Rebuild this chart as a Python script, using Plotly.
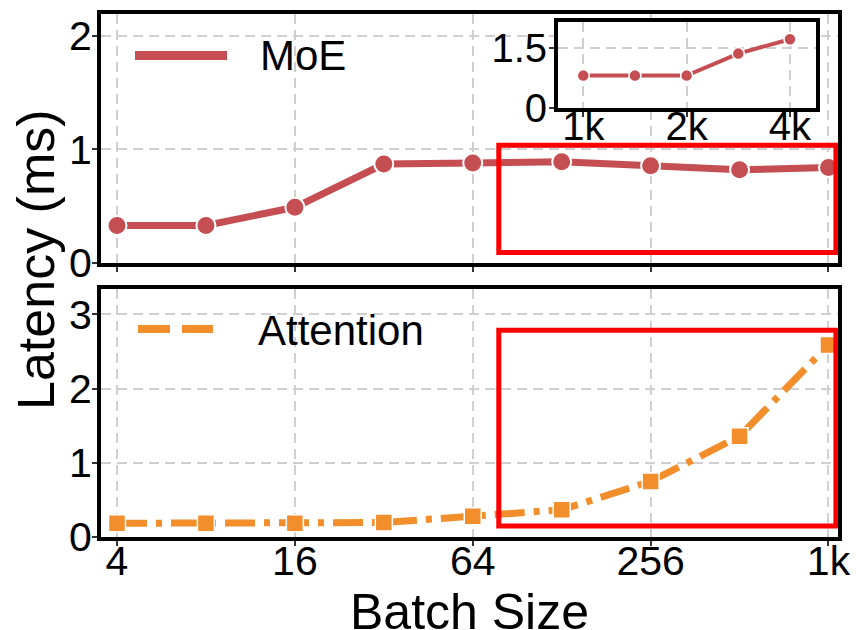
import plotly.graph_objects as go

# ---------------- data ----------------
batch_sizes = [4, 8, 16, 32, 64, 128, 256, 512, 1024]
moe_latency = [0.33, 0.33, 0.49, 0.87, 0.88, 0.89, 0.855, 0.82, 0.84]
attention_latency = [0.185, 0.185, 0.185, 0.195, 0.28, 0.367, 0.749, 1.357, 2.587]

inset_batch_sizes = [1024, 1448, 2048, 2896, 4096]
inset_moe_latency = [0.81, 0.81, 0.81, 1.36, 1.72]

main_tickvals = [4, 16, 64, 256, 1024]
main_ticktext = ["4", "16", "64", "256", "1k"]
inset_tickvals = [1024, 2048, 4096]
inset_ticktext = ["1k", "2k", "4k"]

# ---------------- style ----------------
W, H = 856, 630
ML, MR, MT, MB = 101, 18, 14, 93
PW, PH = W - ML - MR, H - MT - MB

def px(xpix):
    return (xpix - ML) / PW

def py(ypix):
    return (H - MB - ypix) / PH

FONT = "Liberation Sans, Arial, sans-serif"
RED = "#C44E52"
ORANGE = "#F28E2B"
GRID = "#d0d0d0"
GRIDDASH = "10px,6px"

fig = go.Figure()

fig.add_trace(go.Scatter(
    x=batch_sizes, y=moe_latency, mode="lines+markers", name="MoE",
    line=dict(color=RED, width=7),
    marker=dict(symbol="circle", size=19, color=RED, line=dict(color="white", width=2)),
    xaxis="x", yaxis="y", showlegend=False, cliponaxis=False))

fig.add_trace(go.Scatter(
    x=batch_sizes, y=attention_latency, mode="lines+markers", name="Attention",
    line=dict(color=ORANGE, width=7, dash="30px,9px,6px,9px"),
    marker=dict(symbol="square", size=17, color=ORANGE, line=dict(color="white", width=1.5)),
    xaxis="x2", yaxis="y2", showlegend=False, cliponaxis=False))

fig.add_trace(go.Scatter(
    x=inset_batch_sizes, y=inset_moe_latency, mode="lines+markers", name="MoE (inset)",
    line=dict(color=RED, width=4),
    marker=dict(symbol="circle", size=12, color=RED, line=dict(color="white", width=1.5)),
    xaxis="x3", yaxis="y3", showlegend=False, cliponaxis=False))

common_axis = dict(
    showline=True, linecolor="black", linewidth=4, mirror=True,
    ticks="outside", ticklen=5, tickwidth=2, tickcolor="#333333",
    showgrid=True, gridcolor=GRID, gridwidth=2, griddash=GRIDDASH,
    zeroline=False, automargin=False,
    tickfont=dict(family=FONT, size=41, color="black"),
)

x_range = [0.5479, 3.0425]

fig.update_layout(
    width=W, height=H, autosize=False,
    margin=dict(l=ML, r=MR, t=MT, b=MB, pad=0, autoexpand=False),
    paper_bgcolor="white", plot_bgcolor="white",
    font=dict(family=FONT, color="black"),
    xaxis=dict(common_axis, type="log", range=x_range, domain=[0, 1], anchor="y",
               tickvals=main_tickvals, ticktext=main_ticktext, showticklabels=False),
    yaxis=dict(common_axis, range=[0, 2.19], domain=[py(263), 1], anchor="x",
               tickvals=[0, 1, 2], ticklabelstandoff=-8),
    xaxis2=dict(common_axis, type="log", range=x_range, domain=[0, 1], anchor="y2",
                tickvals=main_tickvals, ticktext=main_ticktext, ticklabelstandoff=-20),
    yaxis2=dict(common_axis, range=[0, 3.34], domain=[0, py(289)], anchor="x2",
                tickvals=[0, 1, 2, 3], ticklabelstandoff=-8),
    xaxis3=dict(common_axis, type="log", range=[2.9366, 3.6868],
                domain=[px(558), px(815.5)], anchor="y3",
                tickvals=inset_tickvals, ticktext=inset_ticktext, ticklabelstandoff=-25,
                tickfont=dict(family=FONT, size=40, color="black")),
    yaxis3=dict(common_axis, range=[0, 2.15], domain=[py(108), py(22)], anchor="x3",
                tickvals=[0, 1.5], ticktext=["0", "1.5"], ticklabelstandoff=-6,
                tickfont=dict(family=FONT, size=40, color="black")),
)

# red highlight rectangles (zoomed region)
zoom_x0, zoom_x1 = 78.4, 1085
fig.add_shape(type="rect", xref="x", yref="y", x0=zoom_x0, x1=zoom_x1, y0=0.0925, y1=1.035,
              line=dict(color="#ff0000", width=5), fillcolor="rgba(0,0,0,0)", layer="above")
fig.add_shape(type="rect", xref="x2", yref="y2", x0=zoom_x0, x1=zoom_x1, y0=0.148, y1=2.785,
              line=dict(color="#ff0000", width=5), fillcolor="rgba(0,0,0,0)", layer="above")

# legends (drawn manually to match long line samples)
fig.add_shape(type="line", xref="paper", yref="paper", x0=px(135), x1=px(227), y0=py(55.5), y1=py(55.5),
              line=dict(color=RED, width=9))
fig.add_annotation(xref="paper", yref="paper", x=px(258), y=py(55.5), text="MoE", showarrow=False,
                   xanchor="left", yanchor="middle", font=dict(family=FONT, size=42, color="black"))
fig.add_shape(type="line", xref="paper", yref="paper", x0=px(138), x1=px(213), y0=py(329), y1=py(329),
              line=dict(color=ORANGE, width=8, dash="32px,12px"))
fig.add_annotation(xref="paper", yref="paper", x=px(256), y=py(330), text="Attention", showarrow=False,
                   xanchor="left", yanchor="middle", font=dict(family=FONT, size=42, color="black"))

# axis titles
fig.add_annotation(xref="paper", yref="paper", x=px(36), y=py(260), text="Latency (ms)", showarrow=False,
                   textangle=-90, xanchor="center", yanchor="middle",
                   font=dict(family=FONT, size=52, color="black"))
fig.add_annotation(xref="paper", yref="paper", x=px(469), y=py(612), text="Batch Size", showarrow=False,
                   xanchor="center", yanchor="middle",
                   font=dict(family=FONT, size=50, color="black"))

fig.write_html("out.html", config={"displayModeBar": False},
               post_script="document.body.style.margin='0';document.body.style.padding='0';")
